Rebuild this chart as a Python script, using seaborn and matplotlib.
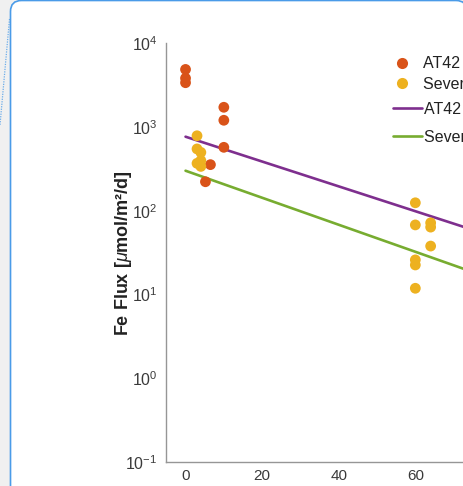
import matplotlib
matplotlib.use("Agg")
import matplotlib.pyplot as plt
import seaborn as sns
import pandas as pd
import numpy as np
from matplotlib.patches import FancyBboxPatch
from matplotlib.lines import Line2D
from matplotlib.ticker import LogLocator, NullFormatter

# ---- data ----
at42_x = [0, 0, 0, 10, 10, 10, 6.5, 5.2]
at42_y = [4900, 3850, 3400, 1730, 1210, 575, 357, 223]
severn_x = [3, 3, 4, 3, 4, 4, 60, 60, 64, 64, 64, 60, 60, 60]
severn_y = [790, 550, 500, 370, 400, 340, 125, 68, 72, 64, 38, 26, 22.6, 11.9]
fit_x = [0, 75]
at42_fit_y = [770, 59.4]
severn_fit_y = [302, 18.6]
labels = ["AT42 data", "Severn data", "AT42 fit", "Severn fit"]
colors = ["#D95319", "#EDB120", "#7E2F8E", "#77AC30"]
yticks = [1e-1, 1e0, 1e1, 1e2, 1e3, 1e4]
xticks = [0, 20, 40, 60]

sns.set_style("white")
plt.rcParams["font.family"] = ["Liberation Sans", "DejaVu Sans"]
plt.rcParams["mathtext.fontset"] = "custom"
plt.rcParams["mathtext.rm"] = "Liberation Sans"
plt.rcParams["mathtext.it"] = "Liberation Sans:italic"
plt.rcParams["mathtext.bf"] = "Liberation Sans:bold"

W, H = 464, 486
fig = plt.figure(figsize=(W / 100, H / 100), dpi=100)
fig.patch.set_facecolor("#f0f0f0")

# card background
card = FancyBboxPatch((0.105, -0.5), 4.67 - 0.105, 4.855 + 0.5,
                      boxstyle="round,pad=0,rounding_size=0.11",
                      transform=fig.dpi_scale_trans, facecolor="white",
                      edgecolor="#4a9be8", linewidth=1.2, zorder=-10)
fig.patches.append(card)
fig.lines.append(Line2D([0.095, 0.0], [4.86 - 0.19, 4.86 - 1.25],
                        transform=fig.dpi_scale_trans, color="#4a9be8",
                        linestyle=(0, (1, 1)), linewidth=0.9, alpha=0.8,
                        zorder=-9))

px_per_unit = 3.83
xmin, xmax = -5.1, 80
ax_w_px = (xmax - xmin) * px_per_unit
ax = fig.add_axes([166 / W, (H - 462) / H, ax_w_px / W, (462 - 43.5) / H])
ax.set_facecolor("none")
ax.set_zorder(1)

df_pts = pd.DataFrame({
    "x": at42_x + severn_x,
    "y": at42_y + severn_y,
    "site": [labels[0]] * len(at42_x) + [labels[1]] * len(severn_x),
})
df_fit = pd.DataFrame({
    "x": fit_x + fit_x,
    "y": at42_fit_y + severn_fit_y,
    "fit": [labels[2]] * 2 + [labels[3]] * 2,
})

sns.lineplot(data=df_fit, x="x", y="y", hue="fit", palette=colors[2:],
             linewidth=1.9, ax=ax, legend=False, zorder=2)
sns.scatterplot(data=df_pts, x="x", y="y", hue="site", palette=colors[:2],
                s=60, linewidth=0, ax=ax, legend=False, zorder=3)

ax.set_yscale("log")
ax.set_ylim(0.1, 1e4)
ax.set_xlim(xmin, xmax)
ax.set_xticks(xticks)
ax.set_yticks(yticks)
ax.yaxis.set_minor_locator(LogLocator(base=10, subs=np.arange(2, 10), numticks=50))
ax.yaxis.set_minor_formatter(NullFormatter())

spine_c = "#969696"
for s in ["top", "right"]:
    ax.spines[s].set_visible(False)
for s in ["left", "bottom"]:
    ax.spines[s].set_color(spine_c)
    ax.spines[s].set_linewidth(1.0)
ax.tick_params(axis="both", which="major", direction="in", length=5, width=1,
               color=spine_c, labelcolor="#3a3a3a")
ax.tick_params(axis="y", which="major", pad=6, labelsize=11.5)
ax.tick_params(axis="x", which="major", pad=4.8, labelsize=11)
ax.tick_params(axis="y", which="minor", direction="in", length=3, width=0.8, color=spine_c)

ax.set_xlabel("")
ax.set_ylabel("Fe Flux [$\\mu$mol/m²/d]", fontsize=13, fontweight="bold",
              color="#222222")
ax.yaxis.set_label_coords((134 - 166) / ax_w_px, 0.5)

# legends
h1 = [Line2D([], [], linestyle="none", marker="o", markersize=8,
             markerfacecolor=c, markeredgewidth=0) for c in colors[:2]]
h2 = [Line2D([], [], color=c, linewidth=1.9) for c in colors[2:]]

leg1 = fig.legend(h1, labels[:2], loc="upper left",
                  bbox_to_anchor=(392 / W, 1 - 56.5 / H), frameon=False,
                  fontsize=11.5, handlelength=1.2, handletextpad=0.75,
                  borderpad=0, borderaxespad=0, labelspacing=0.35)
leg2 = fig.legend(h2, labels[2:], loc="upper left",
                  bbox_to_anchor=(393 / W, 1 - 102 / H), frameon=False,
                  fontsize=11.5, handlelength=1.8, handletextpad=0.15,
                  borderpad=0, borderaxespad=0, labelspacing=0.8)
for lg in (leg1, leg2):
    lg.set_zorder(5)
    for t in lg.get_texts():
        t.set_color("#222222")

fig.savefig("out.png", dpi=100, facecolor=fig.get_facecolor())
